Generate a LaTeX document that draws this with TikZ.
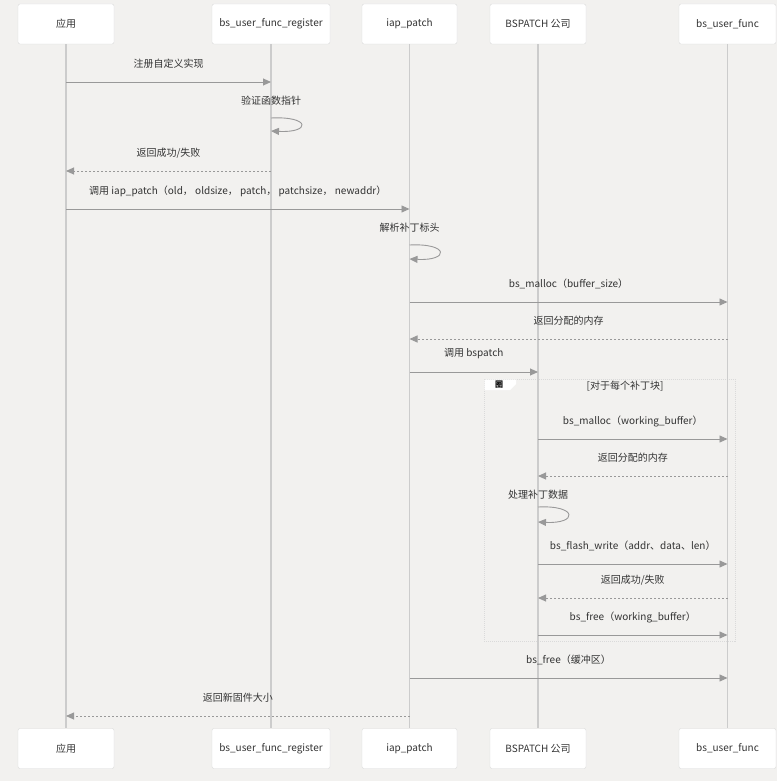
\documentclass[tikz,border=0pt]{standalone}
\usepackage{fontspec}
\setmainfont{Noto Sans CJK SC}
\usepackage{xcolor}
\usetikzlibrary{positioning,arrows.meta}

\definecolor{bgcol}{RGB}{242,241,239}
\definecolor{txtcol}{RGB}{51,51,51}
\definecolor{msgcol}{RGB}{153,153,153}
\definecolor{lifecol}{RGB}{204,204,204}
\definecolor{boxcol}{RGB}{218,218,218}

\begin{document}
\begin{tikzpicture}[
	x=1pt, y=-1pt,
	>={Triangle[length=8pt,width=7pt]},
	font=\fontsize{10}{12}\selectfont,
	actor/.style={
		rectangle,
		rounded corners=2pt,
		draw=boxcol,
		fill=white,
		text=txtcol,
		minimum height=40pt,
		inner sep=2pt
	},
	life/.style={draw=lifecol, line width=1.2pt},
	msg/.style={->, draw=msgcol, line width=0.9pt},
	reply/.style={msg, dash pattern=on 2pt off 2pt},
	lbl/.style={text=txtcol, midway, yshift=18pt},
	selflbl/.style={text=txtcol}
	]
	
	\useasboundingbox (0,0) rectangle (777,781);
	\fill[bgcol] (0,0) rectangle (777,781);
	
	% loop frame
	\draw[boxcol, line width=0.8pt, dash pattern=on 1pt off 1pt] (484,379) rectangle (735,641);
	\fill[white] (484.5,379.5) -- (516,379.5) -- (516,384) -- (510,390) -- (484.5,390) -- cycle;
	\node[text=black, font=\fontsize{8}{9}\selectfont\bfseries] (looptag) at (499,385) {圈};
	\node[selflbl] (loopcond) at (625,386) {[对于每个补丁块]};
	
	% participants
	\node[actor, minimum width=96pt] (app) at (66,24) {应用};
	\node[actor, minimum width=118pt] (reg) at (271,24) {bs\_user\_func\_register};
	\node[actor, minimum width=95pt] (iap) at (409.5,24) {iap\_patch};
	\node[actor, minimum width=96pt] (bsp) at (538,24) {BSPATCH 公司};
	\node[actor, minimum width=97pt] (usr) at (727.5,24) {bs\_user\_func};
	
	\node[actor, minimum width=96pt] (appB) at (66,748.5) {应用};
	\node[actor, minimum width=118pt] (regB) at (271,748.5) {bs\_user\_func\_register};
	\node[actor, minimum width=95pt] (iapB) at (409.5,748.5) {iap\_patch};
	\node[actor, minimum width=96pt] (bspB) at (538,748.5) {BSPATCH 公司};
	\node[actor, minimum width=97pt] (usrB) at (727.5,748.5) {bs\_user\_func};
	
	\foreach \p in {app,reg,iap,bsp,usr}
		\draw[life] (\p) -- (\p B);
	
	% registration
	\draw[msg] (app |- 0,82) -- node[lbl]{注册自定义实现} (reg |- 0,82);
	\node[selflbl] (check) at (reg |- 0,101) {验证函数指针};
	\draw[msg] (reg |- 0,118) .. controls +(40,-2) and +(40,2) .. (reg |- 0,131);
	\draw[reply] (reg |- 0,171) -- node[lbl]{返回成功/失败} (app |- 0,171);
	
	% patching
	\draw[msg] (app |- 0,209) -- node[lbl]{调用 iap\_patch（old， oldsize， patch， patchsize， newaddr）} (iap |- 0,209);
	\node[selflbl] (parse) at (iap |- 0,228) {解析补丁标头};
	\draw[msg] (iap |- 0,245) .. controls +(40,-2) and +(40,2) .. (iap |- 0,259);
	\draw[msg] (iap |- 0,302) -- node[lbl]{bs\_malloc（buffer\_size）} (usr |- 0,302);
	\draw[reply] (usr |- 0,339) -- node[lbl]{返回分配的内存} (iap |- 0,339);
	\draw[msg] (iap |- 0,372) -- node[lbl]{调用 bspatch} (bsp |- 0,372);
	
	% per block
	\draw[msg] (bsp |- 0,439) -- node[lbl]{bs\_malloc（working\_buffer）} (usr |- 0,439);
	\draw[reply] (usr |- 0,476) -- node[lbl]{返回分配的内存} (bsp |- 0,476);
	\node[selflbl] (process) at (bsp |- 0,495) {处理补丁数据};
	\draw[msg] (bsp |- 0,507) .. controls +(40,-2) and +(40,2) .. (bsp |- 0,522);
	\draw[msg] (bsp |- 0,564) -- node[lbl]{bs\_flash\_write（addr、data、len）} (usr |- 0,564);
	\draw[reply] (usr |- 0,598) -- node[lbl]{返回成功/失败} (bsp |- 0,598);
	\draw[msg] (bsp |- 0,635) -- node[lbl]{bs\_free（working\_buffer）} (usr |- 0,635);
	
	% cleanup
	\draw[msg] (iap |- 0,678) -- node[lbl]{bs\_free（缓冲区）} (usr |- 0,678);
	\draw[reply] (iap |- 0,716) -- node[lbl]{返回新固件大小} (app |- 0,716);
\end{tikzpicture}
\end{document}
